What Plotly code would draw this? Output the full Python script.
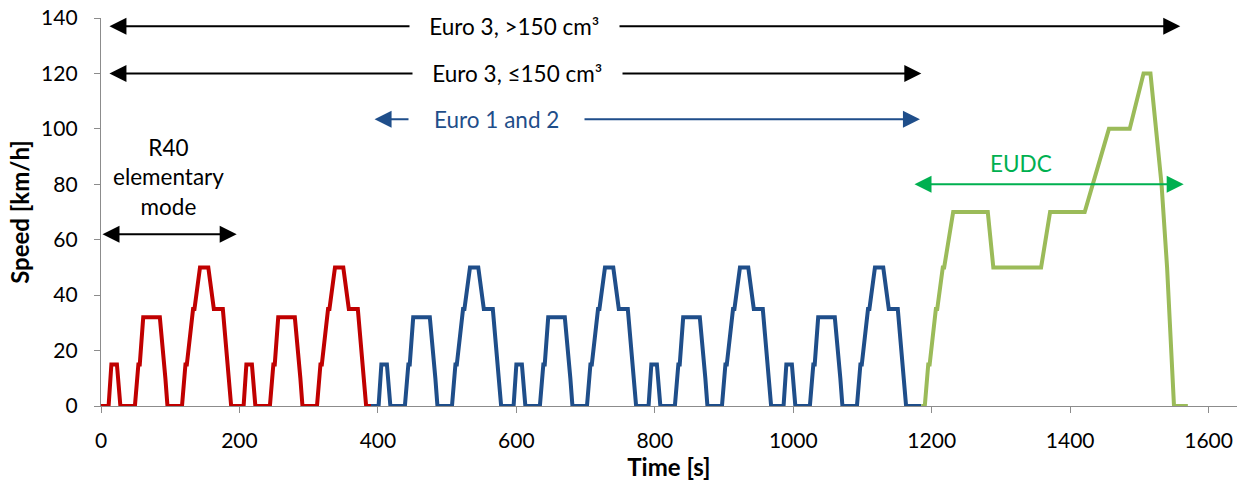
import plotly.graph_objects as go

# one R40 / ECE elementary cycle (195 s), breakpoints
ece_t = [0, 11, 15, 23, 28, 49, 54, 56, 61, 85, 93, 96, 117, 122, 124, 133, 135,
         143, 155, 163, 176, 185, 188, 195]
ece_v = [0, 0, 15, 15, 0, 0, 15, 15, 32, 32, 10, 0, 0, 15, 15, 35, 35,
         50, 50, 35, 35, 10, 0, 0]
red_starts = [0, 195]
blue_starts = [390, 585, 780, 975]
blue_tail_t = [1185]
blue_tail_v = [0]

# extra-urban part (EUDC), times relative to 1170 s
eudc_start = 1170
eudc_t = [15, 20, 25, 27, 36, 38, 46, 48, 61, 111, 119, 188, 201, 251, 286, 316,
          336, 346, 362, 370, 380, 400]
eudc_v = [0, 0, 15, 15, 35, 35, 50, 50, 70, 70, 50, 50, 70, 70, 100, 100,
          120, 120, 80, 50, 0, 0]

RED, BLUE, GREEN = "#C00000", "#1F4E8A", "#9BBB59"
FONT = "Lato"


def cycles(starts):
    t, v = [], []
    for s in starts:
        t += [s + x for x in ece_t]
        v += ece_v
    return t, v


red_t, red_v = cycles(red_starts)
blue_t, blue_v = cycles(blue_starts)
blue_t += blue_tail_t
blue_v += blue_tail_v
green_t = [eudc_start + x for x in eudc_t]

fig = go.Figure()
for t, v, c in [(red_t, red_v, RED), (blue_t, blue_v, BLUE), (green_t, eudc_v, GREEN)]:
    fig.add_trace(go.Scatter(x=t, y=v, mode="lines", line=dict(color=c, width=4),
                             hoverinfo="skip", showlegend=False))

# range arrows: (x_left, x_right, y, colour)
arrows = [
    (10, 1559, 137, "black"),
    (10, 1185, 120, "black"),
    (393, 1183, 103.5, BLUE),
    (1173, 1564, 80, "#00B050"),
    (0, 196, 62, "black"),
]
for x0, x1, y, c in arrows:
    fig.add_annotation(x=x1, y=y, ax=x0, ay=y, xref="x", yref="y", axref="x", ayref="y",
                       text="", showarrow=True, arrowhead=2, startarrowhead=2,
                       arrowside="end+start", arrowsize=1.7, startarrowsize=1.7,
                       arrowwidth=2, arrowcolor=c, standoff=0, startstandoff=0)

labels = [
    (598, 137, "   Euro 3, >150 cm³   ", "black", "white"),
    (601, 120, "   Euro 3, ≤150 cm³   ", "black", "white"),
    (571, 103.5, "    Euro 1 and 2    ", BLUE, "white"),
    (1329, 87.5, "EUDC", "#00B050", "rgba(0,0,0,0)"),
    (97, 82.5, "R40<br>elementary<br>mode", "black", "rgba(0,0,0,0)"),
]
for x, y, txt, c, bg in labels:
    fig.add_annotation(x=x, y=y, xref="x", yref="y", text=txt, showarrow=False,
                       font=dict(family=FONT, size=22.5, color=c), bgcolor=bg,
                       borderpad=2)

axis_common = dict(showgrid=False, zeroline=False, showline=True, linecolor="#8C8C8C",
                   linewidth=1.3, ticks="outside", ticklen=6, tickcolor="#8C8C8C",
                   automargin=False, ticklabeloverflow="allow",
                   tickfont=dict(family=FONT, size=21, color="black"))
fig.update_xaxes(range=[0, 1641], dtick=200, tick0=0, ticklabelstandoff=10,
                 title=dict(text="<b>Time [s]</b>", font=dict(family=FONT, size=24),
                            standoff=4),
                 **axis_common)
fig.update_yaxes(range=[0, 140], dtick=20, tick0=0, ticklabelstandoff=12,
                 title=dict(text="<b>Speed [km/h]</b>", font=dict(family=FONT, size=24),
                            standoff=4),
                 **axis_common)
fig.update_layout(width=1237, height=486, margin=dict(l=101, r=0, t=18, b=80),
                  plot_bgcolor="white", paper_bgcolor="white",
                  font=dict(family=FONT, color="black"))
# drop the default 8 px page margin so the figure fills the window exactly
fig.write_html("out.html", config={"displayModeBar": False},
               post_script="document.body.style.margin='0';document.body.style.overflow='hidden';")
